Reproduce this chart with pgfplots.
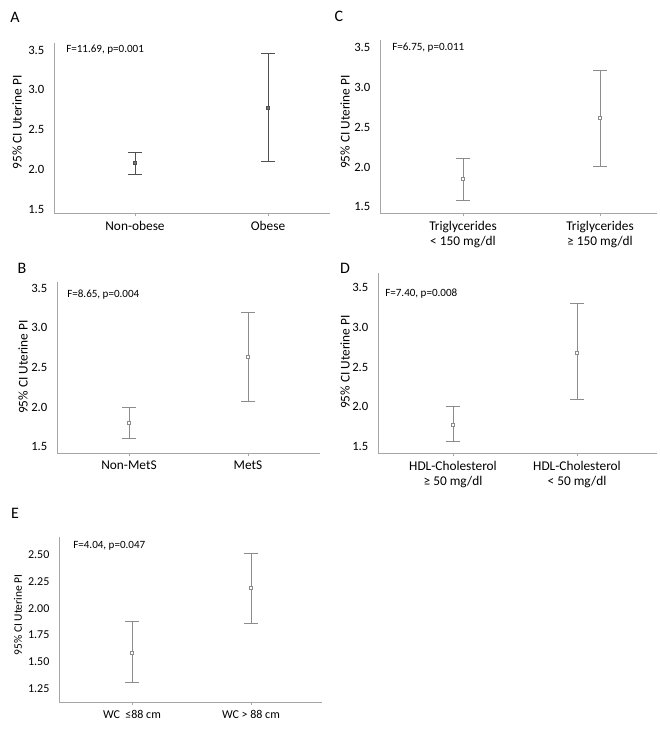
\documentclass[border=0pt]{standalone}
\usepackage{pgfplots}
\pgfplotsset{compat=1.18}
\usepackage{fontspec}
\setmainfont{Carlito}

\definecolor{axgray}{HTML}{A6A6A6}
\definecolor{bardark}{HTML}{505050}
\definecolor{barlight}{HTML}{8C8C8C}

\pgfplotsset{
  panel/.style={
    scale only axis,
    axis lines*=left,
    axis line style={draw=axgray, line width=0.6pt},
    clip=false,
    xtick={1,2},
    tick align=outside,
    ytick style={draw=none},
    xtick style={draw=axgray, line width=0.5pt},
    major tick length=2.5pt,
    yticklabel style={font=\fontsize{9.5}{10}\selectfont, xshift=-1.2pt},
    xticklabel style={font=\fontsize{10}{11.25}\selectfont, align=center},
    /pgf/number format/.cd, fixed, fixed zerofill, precision=1, assume math mode=true,
  },
  ci/.style 2 args={
    only marks, mark=square*, mark size=1.1pt, color=#1,
    mark options={fill=#2, line width=0.5pt},
    error bars/.cd, y dir=both, y explicit,
    error bar style={line width=0.6pt, #1},
    error mark options={rotate=90, mark size=5.25pt, line width=0.6pt, #1},
  },
}

\newcommand{\ann}[1]{{\fontsize{8.3}{10}\selectfont #1}}
\newcommand{\ylab}{{\fontsize{10}{12}\selectfont 95\% CI Uterine PI}}

\begin{document}
\begin{tikzpicture}
\path[use as bounding box] (0,0) rectangle (495pt,546.75pt);

% A
\begin{axis}[panel, at={(40.5pt,387pt)}, anchor=south west,
  width=207pt, height=127.5pt,
  xmin=0.391, xmax=2.466, ymin=1.45, ymax=3.59,
  ytick={1.5,2.0,2.5,3.0,3.5},
  xticklabels={Non-obese, Obese}]
\addplot[ci={bardark}{bardark!80}] coordinates {
  (1,2.08) += (0,0.13) -= (0,0.14)
  (2,2.77) += (0,0.69) -= (0,0.67)
};
\end{axis}

% C
\begin{axis}[panel, at={(285pt,387pt)}, anchor=south west,
  width=207.75pt, height=129.75pt,
  xmin=0.394, xmax=2.416, ymin=1.42, ymax=3.60,
  ytick={1.5,2.0,2.5,3.0,3.5},
  xticklabels={Triglycerides\\< 150 mg/dl, Triglycerides\\≥ 150 mg/dl}]
\addplot[ci={barlight}{white}] coordinates {
  (1,1.85) += (0,0.26) -= (0,0.27)
  (2,2.62) += (0,0.60) -= (0,0.61)
};
\end{axis}

% B
\begin{axis}[panel, at={(42.75pt,207pt)}, anchor=south west,
  width=197.25pt, height=128.25pt,
  xmin=0.395, xmax=2.605, ymin=1.42, ymax=3.58,
  ytick={1.5,2.0,2.5,3.0,3.5},
  xticklabels={Non-MetS, MetS}]
\addplot[ci={barlight}{white}] coordinates {
  (1,1.80) += (0,0.20) -= (0,0.20)
  (2,2.63) += (0,0.56) -= (0,0.56)
};
\end{axis}

% D
\begin{axis}[panel, at={(283.5pt,207pt)}, anchor=south west,
  width=209.25pt, height=135pt,
  xmin=0.395, xmax=2.645, ymin=1.42, ymax=3.68,
  ytick={1.5,2.0,2.5,3.0,3.5},
  xticklabels={HDL-Cholesterol\\≥ 50 mg/dl, HDL-Cholesterol\\< 50 mg/dl}]
\addplot[ci={barlight}{white}] coordinates {
  (1,1.77) += (0,0.23) -= (0,0.20)
  (2,2.68) += (0,0.62) -= (0,0.59)
};
\end{axis}

% E
\begin{axis}[panel, at={(44.25pt,20.25pt)}, anchor=south west,
  width=197.25pt, height=123.75pt,
  xmin=0.387, xmax=2.597, ymin=1.12, ymax=2.67,
  ytick={1.25,1.50,1.75,2.00,2.25,2.50},
  yticklabel style={/pgf/number format/precision=2, font=\fontsize{9}{10}\selectfont},
  xticklabel style={font=\fontsize{9}{10.5}\selectfont},
  xticklabels={WC\ \ ≤88 cm, WC > 88 cm}]
\addplot[ci={barlight}{white}] coordinates {
  (1,1.58) += (0,0.30) -= (0,0.28)
  (2,2.19) += (0,0.33) -= (0,0.33)
};
\end{axis}

% panel letters
\node[font=\fontsize{12}{14}\selectfont] at (11.25pt,534pt) {A};
\node[font=\fontsize{12}{14}\selectfont] at (254.25pt,534.75pt) {C};
\node[font=\fontsize{12}{14}\selectfont] at (16.5pt,345.75pt) {B};
\node[font=\fontsize{12}{14}\selectfont] at (258.75pt,345.75pt) {D};
\node[font=\fontsize{12}{14}\selectfont] at (11.25pt,162pt) {E};

% test statistics
\node[anchor=west, inner sep=0pt] at (49.5pt,509.25pt) {\ann{F=11.69, p=0.001}};
\node[anchor=west, inner sep=0pt] at (294pt,510.75pt) {\ann{F=6.75, p=0.011}};
\node[anchor=west, inner sep=0pt] at (50.25pt,325.5pt) {\ann{F=8.65, p=0.004}};
\node[anchor=west, inner sep=0pt] at (288.75pt,326.25pt) {\ann{F=7.40, p=0.008}};
\node[anchor=west, inner sep=0pt] at (54.75pt,137.25pt) {\ann{F=4.04, p=0.047}};

% y axis titles
\node[rotate=90] at (12.75pt,454.9pt) {\ylab};
\node[rotate=90] at (258.75pt,455.25pt) {\ylab};
\node[rotate=90] at (17.25pt,271.5pt) {\ylab};
\node[rotate=90] at (258.75pt,275.25pt) {\ylab};
\node[rotate=90] at (13.5pt,85.5pt) {\fontsize{8.6}{10}\selectfont 95\% CI Uterine PI};
\end{tikzpicture}
\end{document}
